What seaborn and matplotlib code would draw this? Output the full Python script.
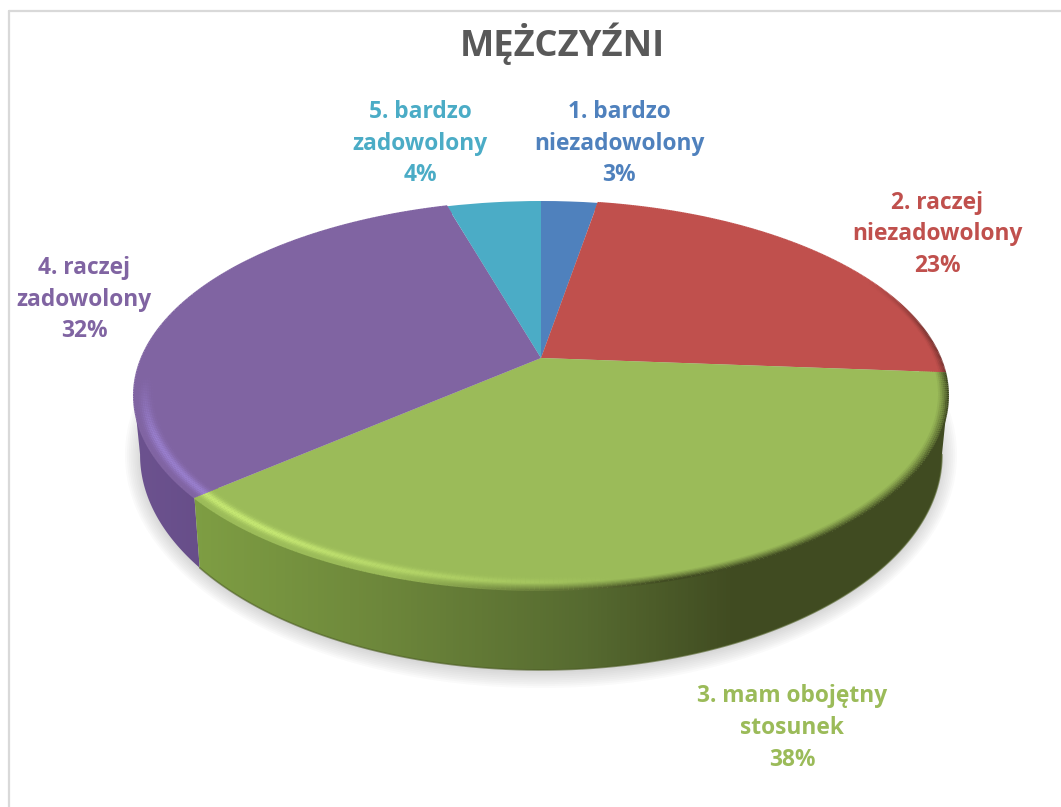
import numpy as np
import matplotlib
matplotlib.use("Agg")
import matplotlib.pyplot as plt
import seaborn as sns
from matplotlib.collections import LineCollection
from matplotlib.colors import LinearSegmentedColormap, to_rgb
from matplotlib.lines import Line2D
from matplotlib.patches import Ellipse, Polygon
from matplotlib.transforms import Transform

categories = ["1. bardzo\nniezadowolony", "2. raczej\nniezadowolony", "3. mam obojętny\nstosunek",
              "4. raczej\nzadowolony", "5. bardzo\nzadowolony"]
values = [2.7, 23.49, 37.5, 31.8, 4.49]
hex_colors = ["#4f81bd", "#c0504d", "#9bbb59", "#8064a2", "#4bacc6"]
title_text = "MĘŻCZYŹNI"

W, H = 1061, 807
APEX = (541, 358)
sns.set_theme(style="white")
plt.rcParams["font.family"] = ["Open Sans", "Noto Sans", "DejaVu Sans"]
palette = sns.color_palette(hex_colors)


class Tilt(Transform):
    """Perspective view of the unit pie disc, in pixels from the top apex."""
    input_dims = output_dims = 2
    is_affine = False

    def __init__(self, a, b, q, dy=0.0):
        super().__init__()
        self.a, self.b, self.q, self.dy = a, b, q, dy

    def transform_non_affine(self, xy):
        xy = np.asarray(xy, float)
        d = 1 + self.q * xy[:, 1]
        return np.column_stack([self.a * xy[:, 0] / d, self.b * xy[:, 1] / d - self.dy])


top_tilt = Tilt(399.4, 187.3, 0.193)
low_tilt = Tilt(393.4, 207.0, 0.193, dy=55.5)

fig = plt.figure(figsize=(W / 100, H / 100), dpi=100, facecolor="white")
ax = fig.add_axes([0, 0, 1, 1])
wedges, _ = ax.pie(values, colors=palette, startangle=90, counterclock=False, radius=1.0,
                   wedgeprops=dict(linewidth=0, zorder=5))
for w in wedges:
    w.set_transform(top_tilt + ax.transData)
    w.set_antialiased(True)

# soft shadow
for k in range(9):
    ax.add_patch(Ellipse((0, -97 - k * 0.3), 2 * (416 - k * 1.9), 2 * (233 - k * 2.2),
                         fc="#7f7f7f", ec="none", alpha=0.035, zorder=1))


def side_poly(t1, t2):
    t = np.radians(np.linspace(t1, t2, 160))
    c = np.column_stack([np.cos(t), np.sin(t)])
    return np.vstack([top_tilt.transform(c), low_tilt.transform(c)[::-1]])


# side walls of the two front wedges, taken from the wedge angles
side_maps = {
    2: LinearSegmentedColormap.from_list("g", [(0, "#80a044"), (0.25, "#6d873b"), (0.5, "#566a30"),
                                                (0.68, "#404b21"), (1, "#404b21")]),
    3: LinearSegmentedColormap.from_list("p", ["#6d5390", "#664d88"]),
}
grad = np.linspace(0, 1, 256).reshape(1, -1)
for i, cmap in side_maps.items():
    w = wedges[i]
    lo, hi = max(w.theta1, -169), min(w.theta2, -11)
    poly = Polygon(side_poly(lo, hi), closed=True, fc="none", ec="none", transform=ax.transData)
    ax.add_patch(poly)
    if i == 2:
        extent = (-365, 459, -449, 358)
    else:
        extent = (-415, -325, -449, 358)
    im = ax.imshow(grad, cmap=cmap, aspect="auto", extent=extent, zorder=3 + (i == 2) * 0.1)
    im.set_clip_path(poly)

# thin darker line along the foot of the wall
t = np.radians(np.linspace(wedges[2].theta1, -11, 200))
foot = low_tilt.transform(np.column_stack([np.cos(t), np.sin(t)]))
ax.plot(foot[:, 0], foot[:, 1], color="#4c5c24", lw=1.2, alpha=0.6, zorder=4)

# bevel on the rim of the top face
radii = np.linspace(0.94, 1.0, 15)
light = {2: "#c6e873", 3: "#9a80cf", 1: "#c0504d"}
dark = {2: "#414c22", 3: "#6d5390", 1: "#6e2f2c"}
for i, w in enumerate(wedges):
    if i not in light:
        continue
    base = np.array(to_rgb(hex_colors[i]))
    lit = np.array(to_rgb(light[i]))
    drk = np.array(to_rgb(dark[i]))
    th = np.radians(np.linspace(w.theta1, w.theta2, 240))
    segs, cols = [], []
    for r in radii:
        for a, b in zip(th[:-1], th[1:]):
            m = (a + b) / 2
            px = 400 * np.cos(m)
            y = np.sin(m)
            s_l = np.clip((60 - px) / 300, 0, 1) * np.clip((-0.1 - y) / 0.3, 0, 1)
            s_d = np.clip((px + 120) / 220, 0, 1) * np.clip((0.45 - y) / 0.3, 0, 1)
            if i == 1:
                s_l = 0.0
            h = np.exp(-((r - 0.974) / 0.012) ** 2)
            d = np.clip((r - 0.975) / 0.025, 0, 1) ** 1.2
            if i == 1:
                d = np.clip((r - 0.985) / 0.015, 0, 1) * 0.8
            if i == 3:
                d *= 0.0
            col = base * (1 - s_l * h) + lit * s_l * h
            col = col * (1 - s_d * d) + drk * s_d * d
            segs.append([[r * np.cos(a), r * np.sin(a)], [r * np.cos(b), r * np.sin(b)]])
            cols.append(col)
    ax.add_collection(LineCollection(segs, colors=cols, linewidths=1.4, capstyle="butt",
                                     transform=top_tilt + ax.transData, zorder=6))

ax.set_aspect("auto")
ax.set_xlim(-APEX[0], W - APEX[0])
ax.set_ylim(APEX[1] - H, APEX[1])
ax.axis("off")

# labels
label_x = [619, 937, 792, 84, 420]
label_y = [143.5, 234.5, 728, 299.5, 143.5]
for name, v, c, lx, ly in zip(categories, values, hex_colors, label_x, label_y):
    ax.text(lx - APEX[0], APEX[1] - ly, f"{name}\n{v:.0f}%", color=c, ha="center", va="center",
            fontsize=16.4, fontweight="bold", linespacing=1.42, zorder=8)

ax.text(562 - APEX[0], APEX[1] - 44, title_text, color="#595959", ha="center", va="center",
        fontsize=26.2, fontweight="bold", zorder=8)

# chart frame
for xs, ys in [((8.5 / W, 1), (1 - 11 / H, 1 - 11 / H)), ((8.5 / W, 8.5 / W), (0, 1 - 11 / H))]:
    fig.add_artist(Line2D(xs, ys, color="#d9d9d9", lw=1.6, transform=fig.transFigure))

fig.savefig("out.png", dpi=100, facecolor="white")
